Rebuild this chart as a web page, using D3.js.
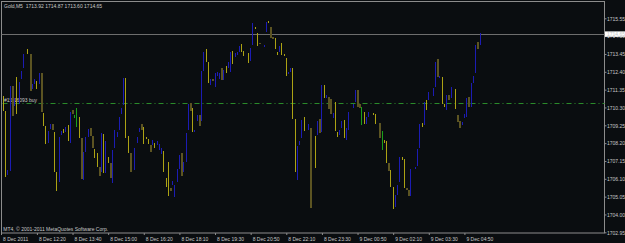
<!DOCTYPE html>
<html>
<head>
<meta charset="utf-8">
<script src="https://cdn.jsdelivr.net/npm/d3@7"></script>
<style>
	html, body { margin: 0; padding: 0; background: #0a0d10; overflow: hidden; }
	svg { display: block; }
	text { font-family: "Liberation Sans", Arial, sans-serif; font-size: 5px; fill: #c8c8c8; white-space: pre; }
</style>
</head>
<body>
<div class="wrapper"></div>
<script>

// bar number (5 min bars, 0 = first visible bar), high, low, colour kind
var barIdx = [
	0, 1, 2, 3, 4, 5, 6, 7, 8, 9,
	11, 12, 13, 14, 15, 16, 17, 18, 19, 20,
	21, 22, 23, 24, 25, 26, 27, 28, 29, 30,
	31, 32, 33, 34, 35, 36, 37, 38, 39, 40,
	41, 42, 43, 44, 45, 46, 47, 48, 49, 50,
	51, 52, 53, 54, 55, 56, 57, 59, 60, 61,
	62, 63, 64, 65, 66, 67, 68, 69, 70, 71,
	72, 73, 74, 75, 76, 77, 78, 79, 80, 81,
	82, 83, 84, 85, 86, 87, 88, 89, 90, 91,
	92, 93, 94, 95, 96, 97, 98, 99, 100, 101,
	102, 103, 104, 105, 106, 107, 108, 110, 111, 112,
	113, 114, 115, 117, 118, 119, 120, 121, 122, 123,
	124, 125, 126, 127, 128, 129, 130, 131, 132, 133,
	134, 135, 137, 138, 140, 141, 142, 143, 144, 145,
	146, 147, 148, 149, 150, 151, 152, 153, 154, 155,
	157, 158, 159, 160, 161, 162, 163, 164, 166, 167,
	169, 170, 171, 172, 173, 174, 175, 176, 177, 178,
	179, 180, 181, 182, 183, 185, 186, 187, 188, 189,
	190, 191, 193, 194, 195, 196, 197, 198, 199, 200,
	201, 203, 204, 205, 206, 207, 208, 209, 210, 211,
	212, 213, 214
];

var barHigh = [
	1710.98, 1710.09, 1706.62, 1711.57, 1711.57, 1710.86, 1712.10, 1711.80, 1712.45, 1713.45,
	1713.74, 1713.45, 1711.68, 1711.98, 1711.86, 1712.33, 1712.33, 1709.97, 1709.21, 1708.92,
	1709.33, 1709.33, 1708.86, 1706.50, 1708.56, 1708.92, 1709.03, 1709.15, 1709.27, 1710.03,
	1710.15, 1709.86, 1710.27, 1709.74, 1708.50, 1707.68, 1708.56, 1709.03, 1709.09, 1708.62,
	1707.85, 1707.62, 1706.80, 1708.80, 1708.74, 1708.33, 1707.38, 1707.03, 1707.80, 1708.97,
	1708.86, 1709.74, 1710.27, 1712.04, 1712.04, 1708.62, 1707.62, 1707.91, 1708.56, 1709.09,
	1709.33, 1709.15, 1708.56, 1708.45, 1708.09, 1708.39, 1708.21, 1708.33, 1708.15, 1707.91,
	1707.74, 1706.15, 1707.09, 1705.56, 1705.97, 1705.73, 1706.68, 1707.50, 1707.62, 1707.09,
	1708.80, 1710.51, 1710.56, 1710.27, 1708.97, 1709.86, 1709.86, 1712.45, 1713.57, 1713.74,
	1712.98, 1711.98, 1711.98, 1712.33, 1712.39, 1712.33, 1712.62, 1712.51, 1712.74, 1712.98,
	1713.57, 1713.63, 1713.51, 1713.57, 1713.92, 1714.04, 1713.63, 1713.51, 1713.80, 1715.28,
	1715.04, 1714.69, 1714.10, 1713.98, 1715.33, 1715.39, 1715.04, 1714.45, 1714.39, 1713.57,
	1713.92, 1714.10, 1713.45, 1713.21, 1712.39, 1712.62, 1712.62, 1709.62, 1708.03, 1708.33,
	1709.56, 1709.74, 1709.33, 1709.09, 1708.62, 1709.50, 1709.62, 1711.62, 1711.62, 1711.03,
	1710.92, 1710.80, 1709.97, 1710.62, 1708.86, 1708.97, 1709.50, 1709.56, 1709.09, 1710.03,
	1710.51, 1711.33, 1711.33, 1710.51, 1710.33, 1710.03, 1709.74, 1710.03, 1709.97, 1709.92,
	1709.39, 1708.92, 1708.39, 1708.33, 1707.03, 1706.62, 1705.62, 1705.15, 1705.73, 1707.38,
	1707.38, 1707.27, 1705.56, 1705.44, 1706.68, 1706.80, 1707.85, 1709.33, 1709.39, 1710.62,
	1710.74, 1711.21, 1711.45, 1712.98, 1713.16, 1712.15, 1712.10, 1710.51, 1711.03, 1711.03,
	1711.51, 1711.39, 1709.86, 1709.50, 1709.45, 1709.92, 1710.86, 1710.92, 1711.74, 1712.15,
	1713.98, 1714.16, 1714.69
];

var barLow = [
	1710.09, 1706.21, 1706.32, 1706.56, 1709.80, 1710.39, 1709.92, 1710.51, 1711.98, 1712.62,
	1713.45, 1711.27, 1711.39, 1711.68, 1711.39, 1711.68, 1710.03, 1709.21, 1708.15, 1708.21,
	1709.03, 1708.97, 1706.50, 1705.38, 1705.91, 1708.68, 1708.80, 1708.86, 1708.33, 1708.21,
	1709.92, 1709.68, 1709.15, 1708.50, 1706.09, 1706.03, 1707.68, 1708.56, 1708.62, 1707.91,
	1707.32, 1706.80, 1706.27, 1706.50, 1706.44, 1706.44, 1707.03, 1706.15, 1705.85, 1707.91,
	1708.56, 1708.97, 1709.92, 1710.45, 1708.50, 1707.62, 1706.50, 1706.62, 1708.21, 1708.86,
	1708.97, 1708.15, 1708.45, 1708.15, 1707.68, 1708.09, 1707.91, 1708.09, 1707.80, 1707.56,
	1706.50, 1705.62, 1705.09, 1705.38, 1705.73, 1705.03, 1705.91, 1706.68, 1706.27, 1706.50,
	1707.09, 1708.97, 1710.09, 1708.86, 1708.86, 1709.50, 1709.21, 1709.50, 1712.45, 1712.98,
	1711.74, 1711.62, 1711.86, 1711.51, 1712.15, 1711.98, 1711.92, 1711.92, 1712.33, 1712.62,
	1712.39, 1712.86, 1713.27, 1713.39, 1713.57, 1713.57, 1713.33, 1712.92, 1713.04, 1713.98,
	1714.92, 1713.92, 1714.04, 1713.86, 1714.75, 1715.28, 1714.39, 1714.33, 1713.74, 1713.39,
	1713.57, 1713.39, 1713.33, 1712.15, 1712.27, 1712.39, 1709.62, 1706.50, 1706.03, 1708.09,
	1708.50, 1708.92, 1708.97, 1704.38, 1706.74, 1708.68, 1708.80, 1708.86, 1710.86, 1710.86,
	1710.21, 1709.92, 1709.68, 1708.92, 1708.56, 1708.68, 1709.09, 1708.50, 1708.39, 1708.97,
	1710.27, 1710.62, 1710.33, 1710.27, 1709.27, 1709.33, 1709.33, 1709.74, 1709.86, 1709.33,
	1708.50, 1707.80, 1708.21, 1707.03, 1706.56, 1705.62, 1704.32, 1704.45, 1705.15, 1705.91,
	1707.21, 1705.56, 1705.44, 1705.09, 1705.09, 1706.68, 1706.85, 1707.91, 1709.15, 1709.27,
	1710.15, 1710.74, 1710.98, 1711.51, 1712.10, 1712.04, 1710.51, 1710.33, 1710.15, 1710.74,
	1710.86, 1710.21, 1709.45, 1709.09, 1709.27, 1709.68, 1709.74, 1710.33, 1710.33, 1711.74,
	1712.33, 1713.74, 1713.98
];

// u = blue, d = yellow, o = dark olive (wide), g = green
var barKind = [
	"dduuouduuu", "douuduoddu", "uodduududu", "oggdouuuoo", "ddoududouu",
	"uuuuddouuu", "odddouduuu", "dddouuuuou", "uuoduuouud", "duouuuoudu",
	"uduuuddduu", "ddouudoodd", "uddduudduu", "uduoduoudu", "ooudduuduu",
	"uuoogduudd", "ogddodduuu", "ddoouuuudu", "duuuoudduo", "udoouuuouu",
	"uou"
].join("").split("");

var priceTicks = [1715.55, 1714.50, 1713.45, 1712.40, 1711.35, 1710.30, 1709.25,
	1708.20, 1707.15, 1706.10, 1705.05, 1704.00, 1702.95];

var timeLabels = ["8 Dec 2011", "8 Dec 12:20", "8 Dec 13:40", "8 Dec 15:00", "8 Dec 16:20",
	"8 Dec 18:10", "8 Dec 19:30", "8 Dec 20:50", "8 Dec 22:10", "8 Dec 23:30",
	"9 Dec 00:50", "9 Dec 02:10", "9 Dec 03:30", "9 Dec 04:50"];
var timeTickBars = [-1, 15, 31, 47, 63, 79, 95, 111, 127, 143, 159, 175, 191, 207];

var bidPrice = 1714.65,
	orderPrice = 1710.55;

var titleText = "Gold,M5  1713.92 1714.87 1713.60 1714.65",
	orderText = "#15 16093 buy",
	copyText = "MT4, \u00a9 2001-2011 MetaQuotes Software Corp.";

var W = 625, H = 243,
	PLOT_L = 1.5, PLOT_T = 1.5, PLOT_R = 604.5, PLOT_B = 233.5;

var COLORS = { u: "#1c1cb4", d: "#aca214", o: "#5c5422", g: "#1aa01a" };

var svg = d3.select(".wrapper")
	.append("svg")
		.attr("width", W)
		.attr("height", H);

svg.append("rect")
	.attr("width", W)
	.attr("height", H)
	.attr("fill", "#0a0d10");

var x = d3.scaleLinear().domain([0, 214]).range([3.5, 480]),
	y = d3.scaleLinear().domain([1702.95, 1715.55]).range([232.3, 18.3]);

// frame
svg.append("rect")
	.attr("x", PLOT_L)
	.attr("y", PLOT_T)
	.attr("width", PLOT_R - PLOT_L)
	.attr("height", PLOT_B - PLOT_T - 0.5)
	.attr("fill", "none")
	.attr("stroke", "#8c8c8c")
	.attr("stroke-width", 1);

// bid line
svg.append("line")
	.attr("x1", PLOT_L).attr("x2", PLOT_R)
	.attr("y1", Math.round(y(bidPrice)) + 0.5)
	.attr("y2", Math.round(y(bidPrice)) + 0.5)
	.attr("stroke", "#6e6e6e");

// order line
svg.append("line")
	.attr("x1", PLOT_L + 1).attr("x2", PLOT_R)
	.attr("y1", Math.round(y(orderPrice)) + 0.5)
	.attr("y2", Math.round(y(orderPrice)) + 0.5)
	.attr("stroke", "#2a8a2a")
	.attr("stroke-dasharray", "5,3,1,3");

svg.append("text")
	.attr("x", 4)
	.attr("y", Math.round(y(orderPrice)) - 1)
	.attr("fill", "#b8b8b8")
	.text(orderText);

// bars
var bars = svg.append("g").attr("class", "bars")
	.selectAll("rect")
	.data(barIdx)
	.enter()
	.append("rect")
		.attr("x", function(d) { return Math.floor(x(d)); })
		.attr("y", function(d, i) { return Math.round(y(barHigh[i])); })
		.attr("width", function(d, i) { return barKind[i] == "o" ? 2 : 1; })
		.attr("height", function(d, i) {
			return Math.max(1, Math.round(y(barLow[i])) - Math.round(y(barHigh[i])));
		})
		.attr("fill", function(d, i) { return COLORS[barKind[i]]; });

// price axis
var yAxis = d3.axisRight(y)
	.tickValues(priceTicks)
	.tickFormat(d3.format(".2f"))
	.tickSize(2)
	.tickSizeOuter(0);

var yg = svg.append("g")
	.attr("transform", "translate(" + PLOT_R + ",0)")
	.call(yAxis);
yg.select(".domain").remove();
yg.selectAll("line").attr("stroke", "#8c8c8c");
yg.selectAll("text")
	.attr("x", 2.5)
	.attr("dy", "0.36em")
	.attr("fill", "#c8c8c8")
	.style("font-size", "5px")
	.style("font-family", "'Liberation Sans', Arial, sans-serif");

// current price box
var by = Math.round(y(bidPrice));
svg.append("rect")
	.attr("x", 605)
	.attr("y", by - 2.6)
	.attr("width", 20)
	.attr("height", 5.4)
	.attr("fill", "#ffffff");
svg.append("text")
	.attr("x", 607)
	.attr("y", by + 1.8)
	.attr("fill", "#000000")
	.text(d3.format(".2f")(bidPrice));

// time axis
var xAxis = d3.axisBottom(x)
	.tickValues(timeTickBars)
	.tickFormat(function(d, i) { return timeLabels[i]; })
	.tickSize(2)
	.tickSizeOuter(0);

var xg = svg.append("g")
	.attr("transform", "translate(0," + (PLOT_B - 0.5) + ")")
	.call(xAxis);
xg.select(".domain").remove();
xg.selectAll(".tick").filter(function(d) { return d < 0; })
	.attr("transform", "translate(" + PLOT_L + ",0)");
xg.selectAll("line").attr("stroke", "#8c8c8c");
xg.selectAll("text")
	.attr("text-anchor", "start")
	.attr("x", 1.5)
	.attr("y", 8)
	.attr("dy", 0)
	.attr("fill", "#c8c8c8")
	.style("font-size", "5px")
	.style("font-family", "'Liberation Sans', Arial, sans-serif");

// title and copyright
svg.append("text")
	.attr("x", 4)
	.attr("y", 7.5)
	.text(titleText);

svg.append("text")
	.attr("x", 3.3)
	.attr("y", 230.5)
	.text(copyText);

</script>
</body>
</html>
